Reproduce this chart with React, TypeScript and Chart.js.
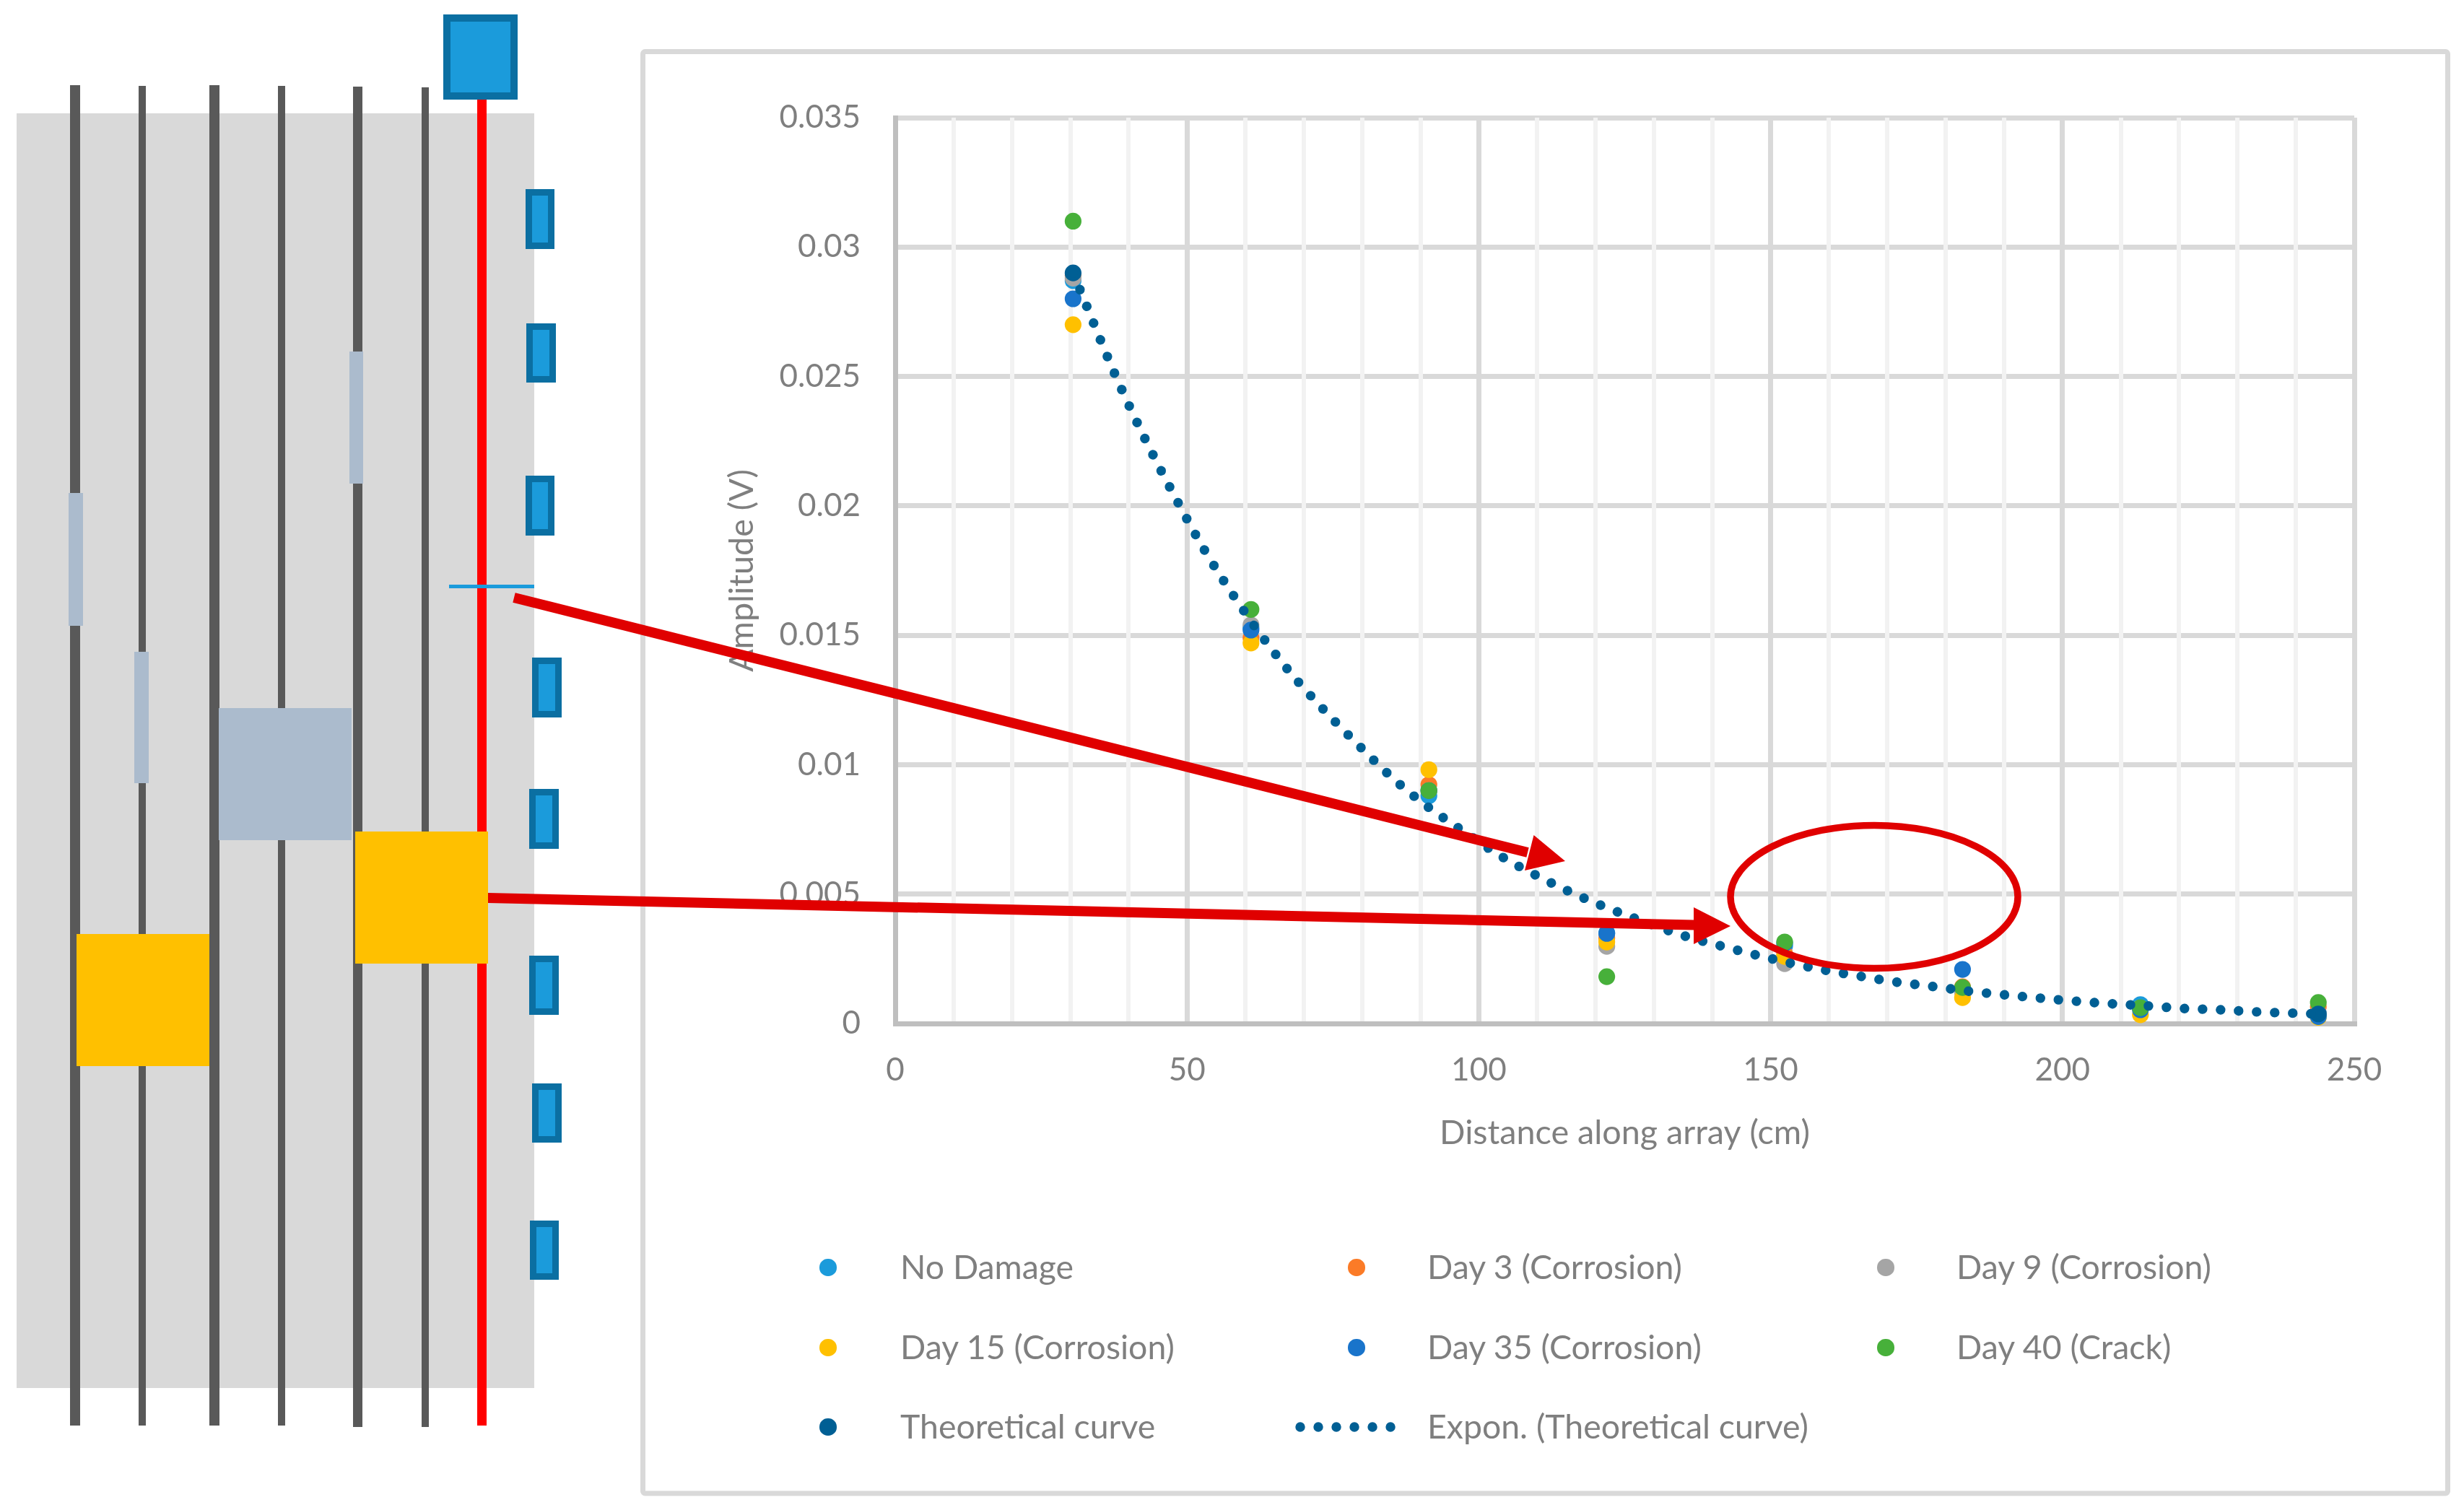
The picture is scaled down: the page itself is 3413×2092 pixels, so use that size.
import React, { useEffect, useRef } from "react";
import { Chart, registerables } from "chart.js";

Chart.register(...registerables);

const distances = [30.48, 60.96, 91.44, 121.92, 152.4, 182.88, 213.36, 243.84];
const noDamage = [0.0287, 0.0153, 0.0088, 0.0035, 0.003, 0.0013, 0.00073, 0.0004];
const day3 = [0.0289, 0.0149, 0.00923, 0.0033, 0.0027, 0.00142, 0.0006, 0.00065];
const day9 = [0.0288, 0.0154, 0.009, 0.00298, 0.00231, 0.0012, 0.0006, 0.0004];
const day15 = [0.027, 0.0147, 0.00981, 0.00315, 0.00259, 0.001, 0.00034, 0.00024];
const day35 = [0.028, 0.0152, 0.009, 0.00348, 0.0031, 0.00209, 0.00053, 0.00027];
const day40 = [0.031, 0.016, 0.009, 0.00181, 0.00315, 0.00139, 0.00061, 0.00081];
const theoreticalX = [30.48, 243.84];
const theoreticalY = [0.029, 0.00037];
const trendX = [30.48, 31.7, 37.6, 42.8, 48.5, 53, 58, 63.3, 69.1, 82.1, 86.5, 91.4, 96.4, 104.2, 109.7, 115.2, 120.9, 126.5, 135.3, 141.3, 147.3, 153.3, 159.4, 165.5, 171.6, 177.8, 183.9, 190, 196.2, 202.4, 208.6, 214.7, 220.8, 227, 233.2, 239.4, 243.84];
const trendY = [0.029, 0.02833, 0.02511, 0.02259, 0.02011, 0.01829, 0.01652, 0.01482, 0.01319, 0.01015, 0.00923, 0.00835, 0.00757, 0.00641, 0.00574, 0.00513, 0.00457, 0.00408, 0.00338, 0.00301, 0.00266, 0.00234, 0.00206, 0.00182, 0.0016, 0.00143, 0.00125, 0.00111, 0.00098, 0.00086, 0.00076, 0.00068, 0.00058, 0.00053, 0.00045, 0.0004, 0.00037];

const seriesNames = ["No Damage", "Day 3 (Corrosion)", "Day 9 (Corrosion)", "Day 15 (Corrosion)", "Day 35 (Corrosion)", "Day 40 (Crack)", "Theoretical curve", "Expon. (Theoretical curve)"];
const seriesColors = ["#1B9BDB", "#FB7B27", "#A5A5A5", "#FFC000", "#1974CB", "#47B03A", "#005F94", "#005F94"];
const seriesValues = [noDamage, day3, day9, day15, day35, day40];

const FONT = "Lato";
const TEXT = "#7F7F7F";
const legendX = [1147, 1879, 2612];
const legendTextX = [1247, 1977, 2710];
const legendY = [1754, 1865, 1975];

const rects: [number, number, number, number, string][] = [
  [23, 157, 717, 1766, "#D9D9D9"],
  [97, 118, 14, 1857, "#595959"],
  [192, 119, 10, 1856, "#595959"],
  [290, 118, 14, 1857, "#595959"],
  [385, 119, 10, 1856, "#595959"],
  [489, 120, 13, 1857, "#595959"],
  [584, 121, 10, 1856, "#595959"],
  [661, 138, 13, 1837, "#FF0000"],
  [622, 810, 118, 5, "#1B9BDB"],
  [95, 683, 20, 184, "#ABBBCD"],
  [484, 487, 19, 183, "#ABBBCD"],
  [186, 903, 20, 182, "#ABBBCD"],
  [303, 981, 184, 183, "#ABBBCD"],
  [106, 1294, 184, 183, "#FFC000"],
  [492, 1152, 184, 183, "#FFC000"],
];
const sensors: [number, number, number, number][] = [
  [728, 262, 40, 83], [729, 448, 41, 82], [728, 659, 40, 83], [737, 911, 41, 83],
  [733, 1093, 41, 83], [733, 1324, 41, 82], [737, 1501, 41, 82], [734, 1691, 40, 82],
];

export default function App() {
  const ref = useRef<HTMLCanvasElement>(null);
  useEffect(() => {
    const datasets: any[] = seriesValues.map((vals, i) => ({
      label: seriesNames[i],
      data: vals.map((y, j) => ({ x: distances[j], y })),
      backgroundColor: seriesColors[i],
      borderColor: seriesColors[i],
      pointRadius: 11.6,
      pointBorderWidth: 0,
      showLine: false,
      clip: false,
      order: 20 - i,
    }));
    datasets.push({
      label: seriesNames[6],
      data: theoreticalX.map((x, j) => ({ x, y: theoreticalY[j] })),
      backgroundColor: seriesColors[6],
      borderColor: seriesColors[6],
      pointRadius: 11.6,
      pointBorderWidth: 0,
      showLine: false,
      clip: false,
      order: 14,
    });
    datasets.push({
      label: seriesNames[7],
      data: trendX.map((x, j) => ({ x, y: trendY[j] })),
      borderColor: seriesColors[7],
      backgroundColor: seriesColors[7],
      pointRadius: 0,
      showLine: true,
      borderWidth: 13.4,
      borderCapStyle: "round",
      borderDash: [0.01, 25],
      cubicInterpolationMode: "monotone",
      clip: false,
      order: 13,
    });
    const chart = new Chart(ref.current!, {
      type: "scatter",
      data: { datasets },
      options: {
        animation: false,
        responsive: false,
        devicePixelRatio: 1,
        layout: { padding: { left: 985, right: 152, top: 163, bottom: 474 } },
        plugins: { legend: { display: false }, tooltip: { enabled: false }, title: { display: false } },
        scales: {
          x: {
            type: "linear",
            min: 0,
            max: 250,
            afterFit: (s: any) => { s.height = 200; },
            grid: {
              z: -1,
              drawTicks: false,
              color: (c: any) => (c.tick.value % 50 === 0 ? "#D9D9D9" : "#F2F2F2"),
              lineWidth: (c: any) => (c.tick.value % 50 === 0 ? 7 : 6),
            },
            border: { color: "#BFBFBF", width: 7 },
            ticks: {
              stepSize: 10,
              autoSkip: false,
              maxRotation: 0,
              padding: 38,
              color: TEXT,
              font: { family: FONT, size: 44 },
              callback: (v: any) => (Number(v) % 50 === 0 ? String(v) : ""),
            },
            title: {
              display: true,
              text: "Distance along array (cm)",
              color: TEXT,
              font: { family: FONT, size: 46.7 },
              padding: { top: 0, bottom: 20 },
            },
          },
          y: {
            type: "linear",
            min: 0,
            max: 0.035,
            afterFit: (s: any) => { s.width = 255; },
            grid: { z: -2, drawTicks: false, color: "#D9D9D9", lineWidth: 7 },
            border: { color: "#BFBFBF", width: 7 },
            ticks: {
              stepSize: 0.005,
              padding: 48,
              color: TEXT,
              font: { family: FONT, size: 44 },
              callback: (v: any) => String(parseFloat(Number(v).toFixed(3))),
            },
            title: {
              display: true,
              text: "Amplitude (V)",
              color: TEXT,
              font: { family: FONT, size: 46.7 },
              padding: { top: 15, bottom: 0 },
            },
          },
        },
      },
    });
    return () => chart.destroy();
  }, []);

  return (
    <div style={{ position: "fixed", left: 0, top: 0, width: 3413, height: 2092, background: "#fff", overflow: "hidden" }}>
      <svg width={3413} height={2092} style={{ position: "absolute", left: 0, top: 0 }}>
        <rect x={890.5} y={71.5} width={2500} height={1997.5} rx={3} fill="#fff" stroke="#D9D9D9" strokeWidth={7} />
      </svg>
      <canvas ref={ref} width={3413} height={2092} style={{ position: "absolute", left: 0, top: 0, display: "block" }} />
      {seriesNames.map((name, i) => {
        const cx = legendX[i % 3];
        const tx = legendTextX[i % 3];
        const cy = legendY[Math.floor(i / 3)];
        const isTrend = i === 7;
        return (
          <div key={name} style={{ position: "absolute", left: tx, top: cy - 30, height: 60, lineHeight: "60px", fontFamily: FONT, fontSize: 46.4, color: TEXT, whiteSpace: "nowrap" }}>
            {name}
            {!isTrend && (
              <span style={{ position: "absolute", left: cx - tx - 11.6, top: 20.4, width: 23.2, height: 23.2, borderRadius: "50%", background: seriesColors[i] }} />
            )}
          </div>
        );
      })}
      <svg width={3413} height={2092} style={{ position: "absolute", left: 0, top: 0, pointerEvents: "none" }}>
        <line x1={1801} y1={1977} x2={1951} y2={1977} stroke={seriesColors[7]} strokeWidth={13.4} strokeLinecap="round" strokeDasharray="0.01 25" />
        {rects.map((r, i) => (
          <rect key={i} x={r[0]} y={r[1]} width={r[2]} height={r[3]} fill={r[4]} />
        ))}
        <rect x={619} y={25} width={93} height={108} fill="#1B9BDB" stroke="#0B6FA2" strokeWidth={10} />
        {sensors.map((s, i) => (
          <rect key={i} x={s[0] + 4.5} y={s[1] + 4.5} width={s[2] - 9} height={s[3] - 9} fill="#1B9BDB" stroke="#0B6FA2" strokeWidth={9} />
        ))}
        <polygon points="713.7,821.2 710.3,834.8 2114.3,1187.8 2117.7,1174.2" fill="#E00000" />
        <polygon points="2124.5,1157 2168,1193 2112,1206" fill="#E00000" />
        <polygon points="676,1237 676,1251 2346,1288.5 2346,1274.5" fill="#E00000" />
        <polygon points="2346,1257 2397,1283 2346,1308" fill="#E00000" />
        <ellipse cx={2596} cy={1242.5} rx={199} ry={99} fill="none" stroke="#E00000" strokeWidth={9.5} />
      </svg>
    </div>
  );
}
